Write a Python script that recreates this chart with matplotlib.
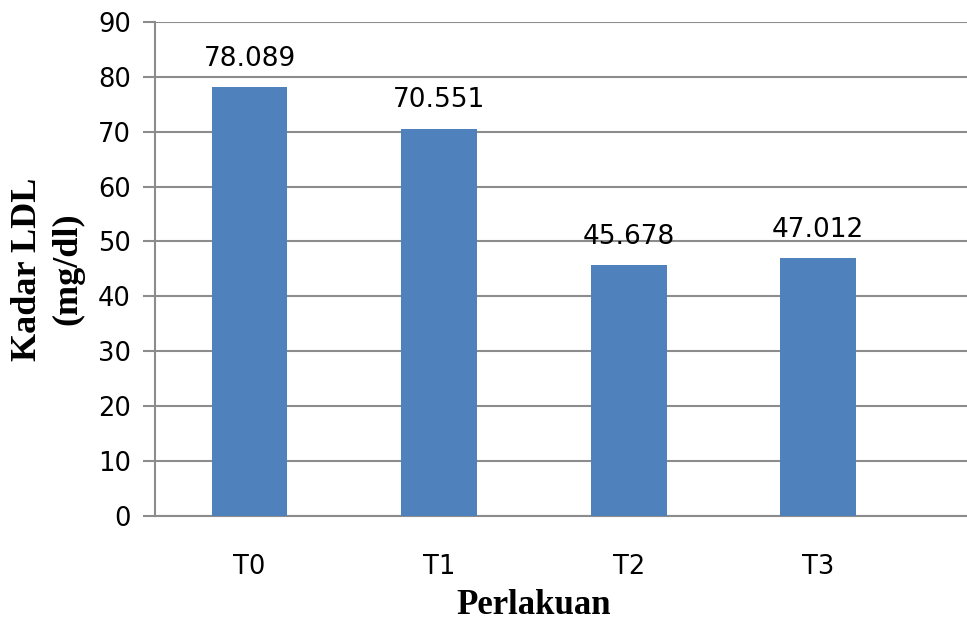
import matplotlib.pyplot as plt
import matplotlib.transforms as mtransforms
import numpy as np

categories = ["T0", "T1", "T2", "T3"]
values = [78.089, 70.551, 45.678, 47.012]
value_labels = ["78.089", "70.551", "45.678", "47.012"]
y_ticks = [0, 10, 20, 30, 40, 50, 60, 70, 80, 90]

bar_color = "#4F81BD"
grid_color = "#8C8C8C"

fig = plt.figure(figsize=(9.67, 6.21), dpi=100)
ax = fig.add_axes([0.160, 0.169, 0.840, 0.796])

x = np.arange(len(categories))
ax.bar(x, values, width=0.40, color=bar_color, zorder=3)

# value labels above bars
for xi, v, lab in zip(x, values, value_labels):
    ax.annotate(lab, (xi, v), xytext=(0, 11), textcoords="offset points",
                ha="center", va="bottom", fontsize=19, color="black")

ax.set_ylim(0, 90)
ax.set_yticks(y_ticks)
ax.set_xlim(-0.5, 3.785)
ax.set_xticks(x)
ax.set_xticklabels(categories)

ax.yaxis.grid(True, color=grid_color, linewidth=1.5, zorder=0)
ax.set_axisbelow(True)

for side in ["top", "right"]:
    ax.spines[side].set_visible(False)
for side in ["left", "bottom"]:
    ax.spines[side].set_color(grid_color)
    ax.spines[side].set_linewidth(1.5)

ax.tick_params(axis="y", length=9, width=1.5, color=grid_color, pad=8, labelsize=18.5)
ax.tick_params(axis="x", length=0, pad=27, labelsize=18.5)

serif = ["Liberation Serif", "DejaVu Serif"]
ax.set_ylabel("Kadar LDL\n(mg/dl)", fontsize=26, fontweight="bold", family=serif,
              linespacing=1.3, labelpad=10)
ax.set_xlabel("Perlakuan", fontsize=25, fontweight="bold", family=serif)
trans = mtransforms.blended_transform_factory(ax.transData, ax.transAxes)
ax.xaxis.set_label_coords(1.5, -0.148, transform=trans)

plt.savefig("out.png", dpi=100)
plt.close(fig)
